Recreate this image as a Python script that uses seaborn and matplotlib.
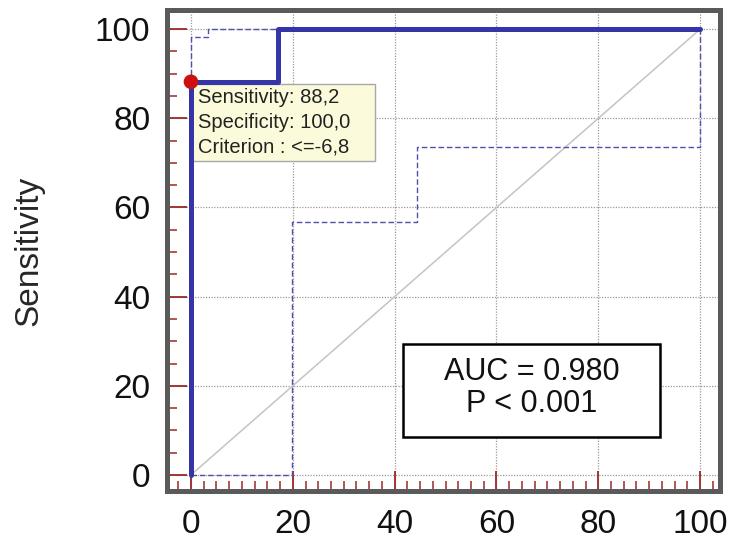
import matplotlib
matplotlib.use("Agg")
import matplotlib.pyplot as plt
import seaborn as sns
from matplotlib.ticker import MultipleLocator
from matplotlib.patches import Rectangle

# ---- data ----
roc_fpr = [0, 0, 17.1, 17.1, 100]
roc_sens = [0, 88.2, 88.2, 100, 100]
upper_fpr = [0, 0, 3.3, 3.3, 100]
upper_sens = [0, 98.2, 98.2, 100, 100]
lower_fpr = [0, 19.8, 19.8, 44.4, 44.4, 100, 100]
lower_sens = [0, 0, 56.8, 56.8, 73.6, 73.6, 100]
diag = [0, 100]
point_fpr = [0]
point_sens = [88.2]
tooltip_lines = ["Sensitivity: 88,2", "Specificity: 100,0", "Criterion : <=-6,8"]
auc_lines = ["AUC = 0.980", "P < 0.001"]
ticks = [0, 20, 40, 60, 80, 100]

sns.set_style("white")
plt.rcParams['font.family'] = ['Liberation Sans', 'DejaVu Sans']
plt.rcParams['xtick.direction'] = 'in'
plt.rcParams['ytick.direction'] = 'in'

fig = plt.figure(figsize=(7.31, 5.40), dpi=100)
L, R, T, B = 167, 720, 10, 491
ax = fig.add_axes([L/731, 1-B/540, (R-L)/731, (B-T)/540])

ax.set_xlim(-4.7, 103.9)
ax.set_ylim(-3.6, 104.3)

# grid
for t in ticks:
    ax.axvline(t, color='#9a9a9a', lw=0.9, ls=(0, (1, 1.2)), zorder=0)
    ax.axhline(t, color='#9a9a9a', lw=0.9, ls=(0, (1, 1.2)), zorder=0)

# diagonal
sns.lineplot(x=diag, y=diag, ax=ax, color='#c4c4c4', lw=1.1, sort=False, estimator=None, zorder=1)

# CI bounds
sns.lineplot(x=upper_fpr, y=upper_sens, ax=ax, color='#5050b0', lw=1.0,
             sort=False, estimator=None, zorder=2)
ax.lines[-1].set_linestyle((0, (4, 2)))
sns.lineplot(x=lower_fpr, y=lower_sens, ax=ax, color='#5050b0', lw=1.0,
             sort=False, estimator=None, zorder=2)
ax.lines[-1].set_linestyle((0, (4, 2)))

# ROC
sns.lineplot(x=roc_fpr, y=roc_sens, ax=ax, color='#3535a8', lw=3.6,
             sort=False, estimator=None, zorder=7)

# point
sns.scatterplot(x=point_fpr, y=point_sens, ax=ax, color='#cc1010', s=110,
                edgecolor='none', zorder=8)

# tooltip
ax.add_patch(Rectangle((-0.2, 70.5), 36.3, 17.2, facecolor='#fbfbdc',
                       edgecolor='#a8a8a8', lw=1, zorder=6))
for yv, line in zip([84.6, 79.1, 73.6], tooltip_lines):
    ax.text(1.3, yv, line, fontsize=14.5, va='center', ha='left',
            color='#222222', zorder=6.5)

# AUC box
ax.add_patch(Rectangle((41.65, 8.6), 50.5, 20.7, facecolor='white',
                       edgecolor='black', lw=1.8, zorder=6))
for yv, line in zip([23.0, 15.9], auc_lines):
    ax.text(66.9, yv, line, fontsize=22, va='center', ha='center',
            color='#111111', zorder=7)

# ticks
ax.set_xticks(ticks)
ax.set_yticks(ticks)
ax.xaxis.set_minor_locator(MultipleLocator(2.5))
ax.yaxis.set_minor_locator(MultipleLocator(5))
ax.tick_params(axis='both', which='major', direction='in', length=14.5, width=1.3,
               color='#9a2828', labelsize=24, bottom=True, left=True, top=False, right=False)
ax.tick_params(axis='both', which='minor', direction='in', length=7.5, width=1.1,
               color='#9a2828', bottom=True, left=True, top=False, right=False)
ax.tick_params(axis='x', which='major', pad=13)
ax.tick_params(axis='y', which='major', pad=12)
for lab in ax.get_xticklabels() + ax.get_yticklabels():
    lab.set_color('#111111')

ax.set_ylabel("Sensitivity", fontsize=24, labelpad=36)
ax.set_xlabel("")

for s in ax.spines.values():
    s.set_visible(True)
    s.set_color('#5a5a5a')
    s.set_linewidth(3.6)

fig.savefig("out.png", dpi=100)
